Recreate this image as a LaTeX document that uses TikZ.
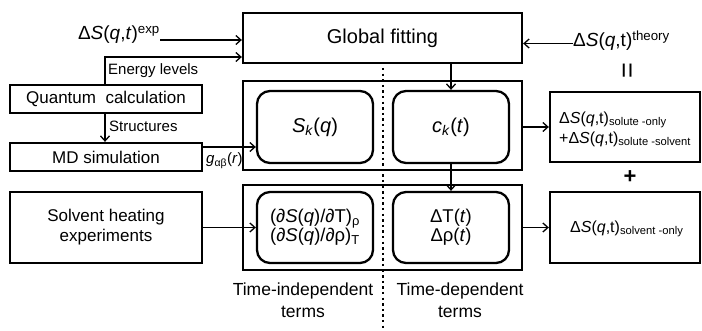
\documentclass[tikz,border=0pt]{standalone}
\usepackage{fontspec}
\setmainfont{Liberation Sans}
\usetikzlibrary{arrows.meta}
\begin{document}
\begin{tikzpicture}[x=1pt,y=-1pt,
  box/.style={draw, line width=2.3pt, inner sep=0pt, align=center},
  rbox/.style={box, rounded corners=13pt, minimum width=116pt},
  arr/.style={line width=1.3pt, -{Straight Barb[length=5pt,width=9pt]}},
  ft/.style={font=\fontsize{17}{20}\selectfont},
  lbl/.style={font=\fontsize{15}{18}\selectfont, inner sep=0pt},
  big/.style={font=\fontsize{19}{23}\selectfont, inner sep=0pt},
  inbox/.style={font=\fontsize{18.5}{19}\selectfont},
  rtext/.style={font=\fontsize{16}{20}\selectfont, align=left, inner sep=0pt},
  dotline/.style={line width=2.4pt, dash pattern=on 2.4pt off 3.2pt},
]
\useasboundingbox (0,0) rectangle (702,331);

% central boxes
\node[box, minimum width=279pt, minimum height=50pt, font=\fontsize{20}{24}\selectfont] (global) at (382.5,38) {Global fitting};
\node[box, minimum width=279pt, minimum height=89pt] (upbox) at (382.5,125.5) {};
\node[box, minimum width=279pt, minimum height=85pt] (lowbox) at (382.5,227.5) {};

\node[rbox, minimum height=72pt, font=\fontsize{20}{24}\selectfont] (sk) at (315,127) {\textit{S}\textsubscript{\textit{k}}(\textit{q})};
\node[rbox, minimum height=72pt, font=\fontsize{20}{24}\selectfont] (ck) at (451,127) {\textit{c}\textsubscript{\textit{k}}(\textit{t})};
\node[rbox, minimum height=71pt, inbox] (ds) at (315,227.5) {(∂\textit{S}(\textit{q})/∂T)\textsubscript{ρ}\\(∂\textit{S}(\textit{q})/∂ρ)\textsubscript{T}};
\node[rbox, minimum height=71pt, inbox] (dt) at (451,227.5) {ΔT(\textit{t})\\Δρ(\textit{t})};

% right boxes
\node[box, minimum width=150pt, minimum height=70pt] (r1) at (625,127) {};
\node[box, minimum width=150pt, minimum height=71pt] (r2) at (625,227.5) {};
\node[rtext, anchor=west] (r1t) at (559,129) {Δ\textit{S}(\textit{q},t)\textsubscript{solute -only}\\+Δ\textit{S}(\textit{q},t)\textsubscript{solute -solvent}};
\node[rtext, anchor=west] (r2t) at (570,229) {Δ\textit{S}(\textit{q},t)\textsubscript{solvent -only}};

% left boxes
\node[box, minimum width=192pt, minimum height=28pt, ft] (qc) at (106,99) {Quantum~ calculation};
\node[box, minimum width=192pt, minimum height=28pt, ft] (md) at (106,157) {MD simulation};
\node[box, minimum width=192pt, minimum height=71pt, ft] (sol) at (106,227.5) {Solvent heating\\experiments};

% outer texts
\node[big, anchor=base east] (expt) at (160,40) {Δ\textit{S}(\textit{q},\textit{t})\textsuperscript{exp}};
\node[big, anchor=base west] (theo) at (573,47) {Δ\textit{S}(\textit{q},t)\textsuperscript{theory}};
\node[font=\fontsize{27}{30}\selectfont, rotate=90, inner sep=0pt] (eq) at (630,71) {=};
\node[font=\fontsize{22}{26}\selectfont\bfseries, inner sep=0pt] (plus) at (630,177) {+};

\node[lbl, anchor=base west] (elev) at (108,75) {Energy levels};
\node[lbl, anchor=base west] (struc) at (109,132) {Structures};
\node[lbl, anchor=base west] (gab) at (206,164) {\textit{g}\textsubscript{αβ}(\textit{r})};

\node[align=center, inner sep=0pt, font=\fontsize{17.5}{22}\selectfont] (tind) at (303,300) {Time-independent\\terms};
\node[align=center, inner sep=0pt, font=\fontsize{17.5}{22}\selectfont] (tdep) at (460,300) {Time-dependent\\terms};

% connectors
\coordinate (ebend) at (105,57);
\coordinate (gy) at (0,147);
\coordinate (dtop) at (383,68);
\coordinate (dbot) at (383,331);

\draw[arr] (expt.base east) -- (expt.base east -| global.west);
\draw[arr] (qc.north -| ebend) -- (ebend) -- (ebend -| global.west);
\draw[arr] ([yshift=3.5pt]theo.base west) -- ([yshift=3.5pt]theo.base west -| global.east);
\draw[arr] (qc.south -| ebend) -- (md.north -| ebend);
\draw[arr] (md.east |- gy) -- (sk.west |- gy);
\draw[arr] (sol.east) -- (ds.west);
\draw[arr] (global.south -| ck) -- (ck.north);
\draw[arr] (ck.south) -- (dt.north);
\draw[arr] (upbox.east |- r1) -- (r1.west);
\draw[arr] (lowbox.east |- r2) -- (r2.west);
\draw[dotline] (dtop) -- (dbot);
\end{tikzpicture}
\end{document}
